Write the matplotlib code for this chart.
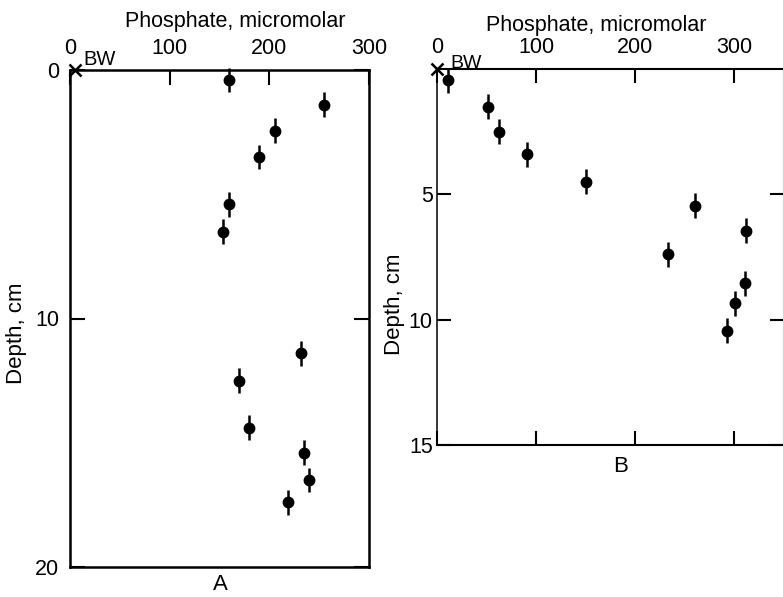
import matplotlib
matplotlib.use("Agg")
import matplotlib.pyplot as plt

plt.rcParams['font.family'] = ['Liberation Sans', 'DejaVu Sans']

# core A: phosphate (micromolar) vs depth (cm)
phos_a = [160, 255, 206, 190, 160, 154, 232, 170, 180, 235, 240, 219]
depth_a = [0.4, 1.4, 2.45, 3.5, 5.4, 6.5, 11.4, 12.5, 14.4, 15.4, 16.5, 17.4]

# core B
phos_b = [11, 52, 63, 91, 151, 261, 233, 312, 311, 301, 293]
depth_b = [0.45, 1.5, 2.5, 3.4, 4.5, 5.45, 7.4, 6.45, 8.55, 9.35, 10.45]

depth_err = 0.5

# bottom water values
bw_a = (5, 0)
bw_b = (0, 0)

x_ticks = [0, 100, 200, 300]
y_ticks_a = [0, 10, 20]
y_ticks_b = [5, 10, 15]

TICK_FS = 15.5
LABEL_FS = 15.5

W, H = 783, 597
fig = plt.figure(figsize=(W / 100, H / 100), dpi=100)

axA = fig.add_axes([70 / W, (H - 567) / H, 299 / W, 497 / H])
axB = fig.add_axes([437 / W, (H - 445) / H, 346.5 / W, 376 / H])


def style(ax, lw):
    for s in ax.spines.values():
        s.set_linewidth(lw)
    ax.xaxis.set_label_position('top')


def draw(ax, x, y, bw):
    ax.errorbar(x, y, yerr=depth_err, fmt='o', color='black', ms=7.5,
                elinewidth=1.8, capsize=0, clip_on=False)
    ax.plot(bw[0], bw[1], marker='x', color='black', ms=9, mew=1.8,
            clip_on=False, zorder=5)


# panel A
draw(axA, phos_a, depth_a, bw_a)
axA.set_xlim(0, 300)
axA.set_ylim(20, 0)
axA.set_xticks(x_ticks)
axA.set_yticks(y_ticks_a)
style(axA, 1.8)
axA.tick_params(axis='x', bottom=False, top=True, labelbottom=False,
                labeltop=True, direction='in', length=10.5, width=1.5,
                pad=8, labelsize=TICK_FS)
axA.tick_params(axis='y', left=True, right=True, direction='in',
                length=10.5, width=1.5, pad=8, labelsize=TICK_FS)
axA.set_xlabel('Phosphate, micromolar', fontsize=LABEL_FS)
axA.xaxis.label.set_va('bottom')
axA.xaxis.set_label_coords(0.552, 1.077)
axA.set_ylabel('Depth, cm', fontsize=16)
axA.yaxis.set_label_coords(-0.144, 0.471)
axA.text(0.502, -0.036, 'A', transform=axA.transAxes, ha='center',
         va='center', fontsize=16)
axA.annotate('BW', xy=bw_a, xytext=(6, 3.5), textcoords='offset points',
             ha='left', va='baseline', fontsize=14.5, annotation_clip=False)

# panel B
draw(axB, phos_b, depth_b, bw_b)
axB.set_xlim(0, 350)
axB.set_ylim(15, 0)
axB.set_xticks(x_ticks)
axB.set_yticks(y_ticks_b)
style(axB, 1.5)
axB.spines['left'].set_linewidth(1.1)
axB.tick_params(axis='x', bottom=True, top=True, labelbottom=False,
                labeltop=True, direction='in', length=10, width=1.5,
                pad=8, labelsize=TICK_FS)
axB.tick_params(axis='y', left=True, right=True, direction='in',
                length=10, width=1.5, pad=3, labelsize=TICK_FS)
axB.set_xlabel('Phosphate, micromolar', fontsize=LABEL_FS)
axB.xaxis.label.set_va('bottom')
axB.xaxis.set_label_coords(0.459, 1.087)
axB.set_ylabel('Depth, cm', fontsize=16)
axB.yaxis.set_label_coords(-0.092, 0.375)
axB.text(0.531, -0.0585, 'B', transform=axB.transAxes, ha='center',
         va='center', fontsize=16)
axB.annotate('BW', xy=bw_b, xytext=(9.5, 0.5), textcoords='offset points',
             ha='left', va='baseline', fontsize=14, annotation_clip=False)

fig.savefig('out.png', dpi=100)
